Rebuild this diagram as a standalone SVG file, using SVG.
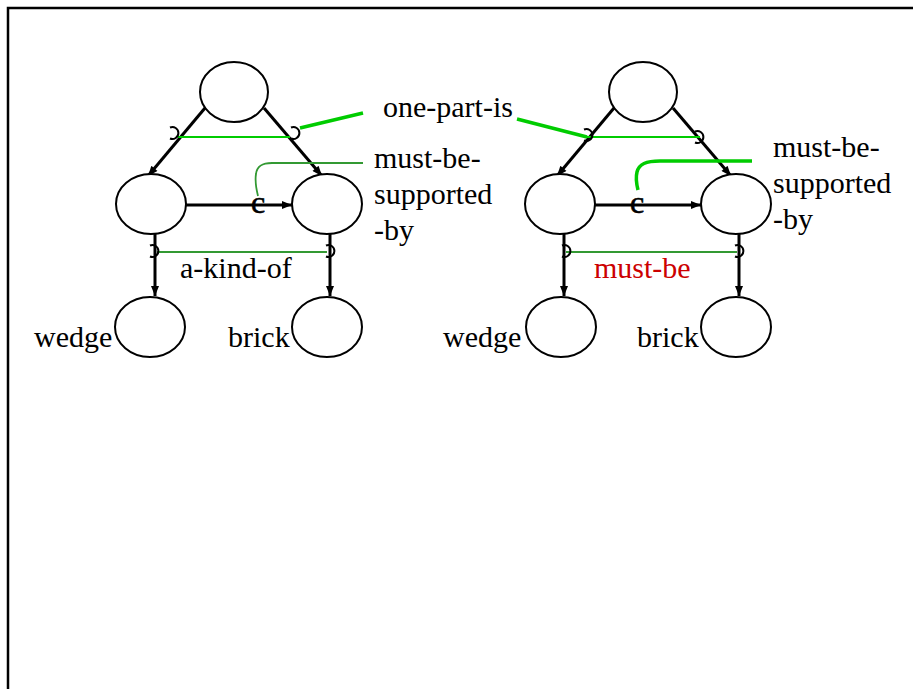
<svg xmlns="http://www.w3.org/2000/svg" xmlns:xlink="http://www.w3.org/1999/xlink" width="913" height="689" viewBox="0 0 913 689">
<defs>
<style>
.node{fill:#fff;stroke:#000;stroke-width:2}
.edge{fill:none;stroke:#000;stroke-width:3}
.lbl{font-family:"Liberation Serif","Times New Roman",serif;font-size:30px;fill:#000}
.cm{font-family:"Liberation Serif","Times New Roman",serif;font-size:32px;fill:#000;stroke:#000;stroke-width:0.6}
.red{fill:#cc0000}
.g1{fill:none;stroke:#00cc00;stroke-width:2}
.g2{fill:none;stroke:#00cc00;stroke-width:3.5}
.g3{fill:none;stroke:#339933;stroke-width:1.8}
.mk{fill:none;stroke:#000;stroke-width:2}
</style>
<marker id="ah" viewBox="0 0 10 8" refX="10" refY="4" markerWidth="11" markerHeight="8" markerUnits="userSpaceOnUse" orient="auto">
<path d="M0,0 L10,4 L0,8 Z" fill="#000"/>
</marker>
<path id="rc" d="M-3,-5.5 A6,6 0 1 1 -3,5.5"/>
</defs>
<rect x="0" y="0" width="913" height="689" fill="#fff"/>
<path d="M8,700 V8 H920" fill="none" stroke="#000" stroke-width="2.5"/>

<!-- Left diagram -->
<g id="connectors-left">
<line class="edge" x1="205" y1="108" x2="148" y2="176" marker-end="url(#ah)"/>
<line class="edge" x1="264" y1="108" x2="322" y2="176" marker-end="url(#ah)"/>
<line class="edge" x1="186" y1="205" x2="292" y2="205" marker-end="url(#ah)"/>
<line class="edge" x1="155" y1="233" x2="155" y2="296" marker-end="url(#ah)"/>
<line class="edge" x1="330" y1="233" x2="330" y2="296" marker-end="url(#ah)"/>
<line class="g1" x1="178" y1="137" x2="290" y2="137"/>
<line class="g2" x1="300" y1="128" x2="363" y2="113"/>
<path class="g3" d="M258,196 C256,188 255,180 256,174 C257,166 262,163 272,163 L363,163"/>
<line class="g3" x1="157" y1="252" x2="327" y2="252"/>
<use href="#rc" class="mk" x="173" y="133"/>
<use href="#rc" class="mk" x="294" y="133"/>
<use href="#rc" class="mk" x="153" y="251"/>
<use href="#rc" class="mk" x="329" y="251"/>
<text class="cm" x="258" y="213" text-anchor="middle">c</text>
</g>
<g id="L-top"><ellipse class="node" cx="234" cy="92" rx="34" ry="30"/></g>
<g id="L-mid-left"><ellipse class="node" cx="151" cy="204" rx="35" ry="30"/></g>
<g id="L-mid-right"><ellipse class="node" cx="327" cy="204" rx="35" ry="30"/></g>
<g id="L-wedge"><ellipse class="node" cx="150" cy="327" rx="35" ry="30"/><text class="lbl" x="34" y="347">wedge</text></g>
<g id="L-brick"><ellipse class="node" cx="327" cy="327" rx="35" ry="30"/><text class="lbl" x="228" y="347">brick</text></g>
<g id="L-labels">
<text class="lbl" x="383" y="117">one-part-is</text>
<text class="lbl" x="374" y="168">must-be-</text>
<text class="lbl" x="374" y="204">supported</text>
<text class="lbl" x="374" y="240">-by</text>
<text class="lbl" x="180" y="278">a-kind-of</text>
</g>

<!-- Right diagram -->
<g id="connectors-right">
<line class="edge" x1="614" y1="108" x2="557" y2="176" marker-end="url(#ah)"/>
<line class="edge" x1="673" y1="108" x2="731" y2="176" marker-end="url(#ah)"/>
<line class="edge" x1="595" y1="205" x2="701" y2="205" marker-end="url(#ah)"/>
<line class="edge" x1="564" y1="233" x2="564" y2="296" marker-end="url(#ah)"/>
<line class="edge" x1="739" y1="233" x2="739" y2="296" marker-end="url(#ah)"/>
<line class="g1" x1="585" y1="137" x2="700" y2="137"/>
<line class="g2" x1="517" y1="119" x2="587" y2="137"/>
<path class="g2" d="M638,190 C636,182 636,176 637,172 C639,164 646,161 660,161 L752,161"/>
<line class="g3" x1="566" y1="252" x2="737" y2="252"/>
<use href="#rc" class="mk" x="587" y="135"/>
<use href="#rc" class="mk" x="698" y="137"/>
<use href="#rc" class="mk" x="565" y="251"/>
<use href="#rc" class="mk" x="738" y="251"/>
<text class="cm" x="637" y="213" text-anchor="middle">c</text>
</g>
<g id="R-top"><ellipse class="node" cx="643" cy="92" rx="34" ry="30"/></g>
<g id="R-mid-left"><ellipse class="node" cx="560" cy="204" rx="35" ry="30"/></g>
<g id="R-mid-right"><ellipse class="node" cx="736" cy="204" rx="35" ry="30"/></g>
<g id="R-wedge"><ellipse class="node" cx="561" cy="327" rx="35" ry="30"/><text class="lbl" x="443" y="347">wedge</text></g>
<g id="R-brick"><ellipse class="node" cx="736" cy="327" rx="35" ry="30"/><text class="lbl" x="637" y="347">brick</text></g>
<g id="R-labels">
<text class="lbl" x="773" y="157">must-be-</text>
<text class="lbl" x="773" y="193">supported</text>
<text class="lbl" x="773" y="229">-by</text>
<text class="lbl red" x="594" y="278">must-be</text>
</g>
</svg>
